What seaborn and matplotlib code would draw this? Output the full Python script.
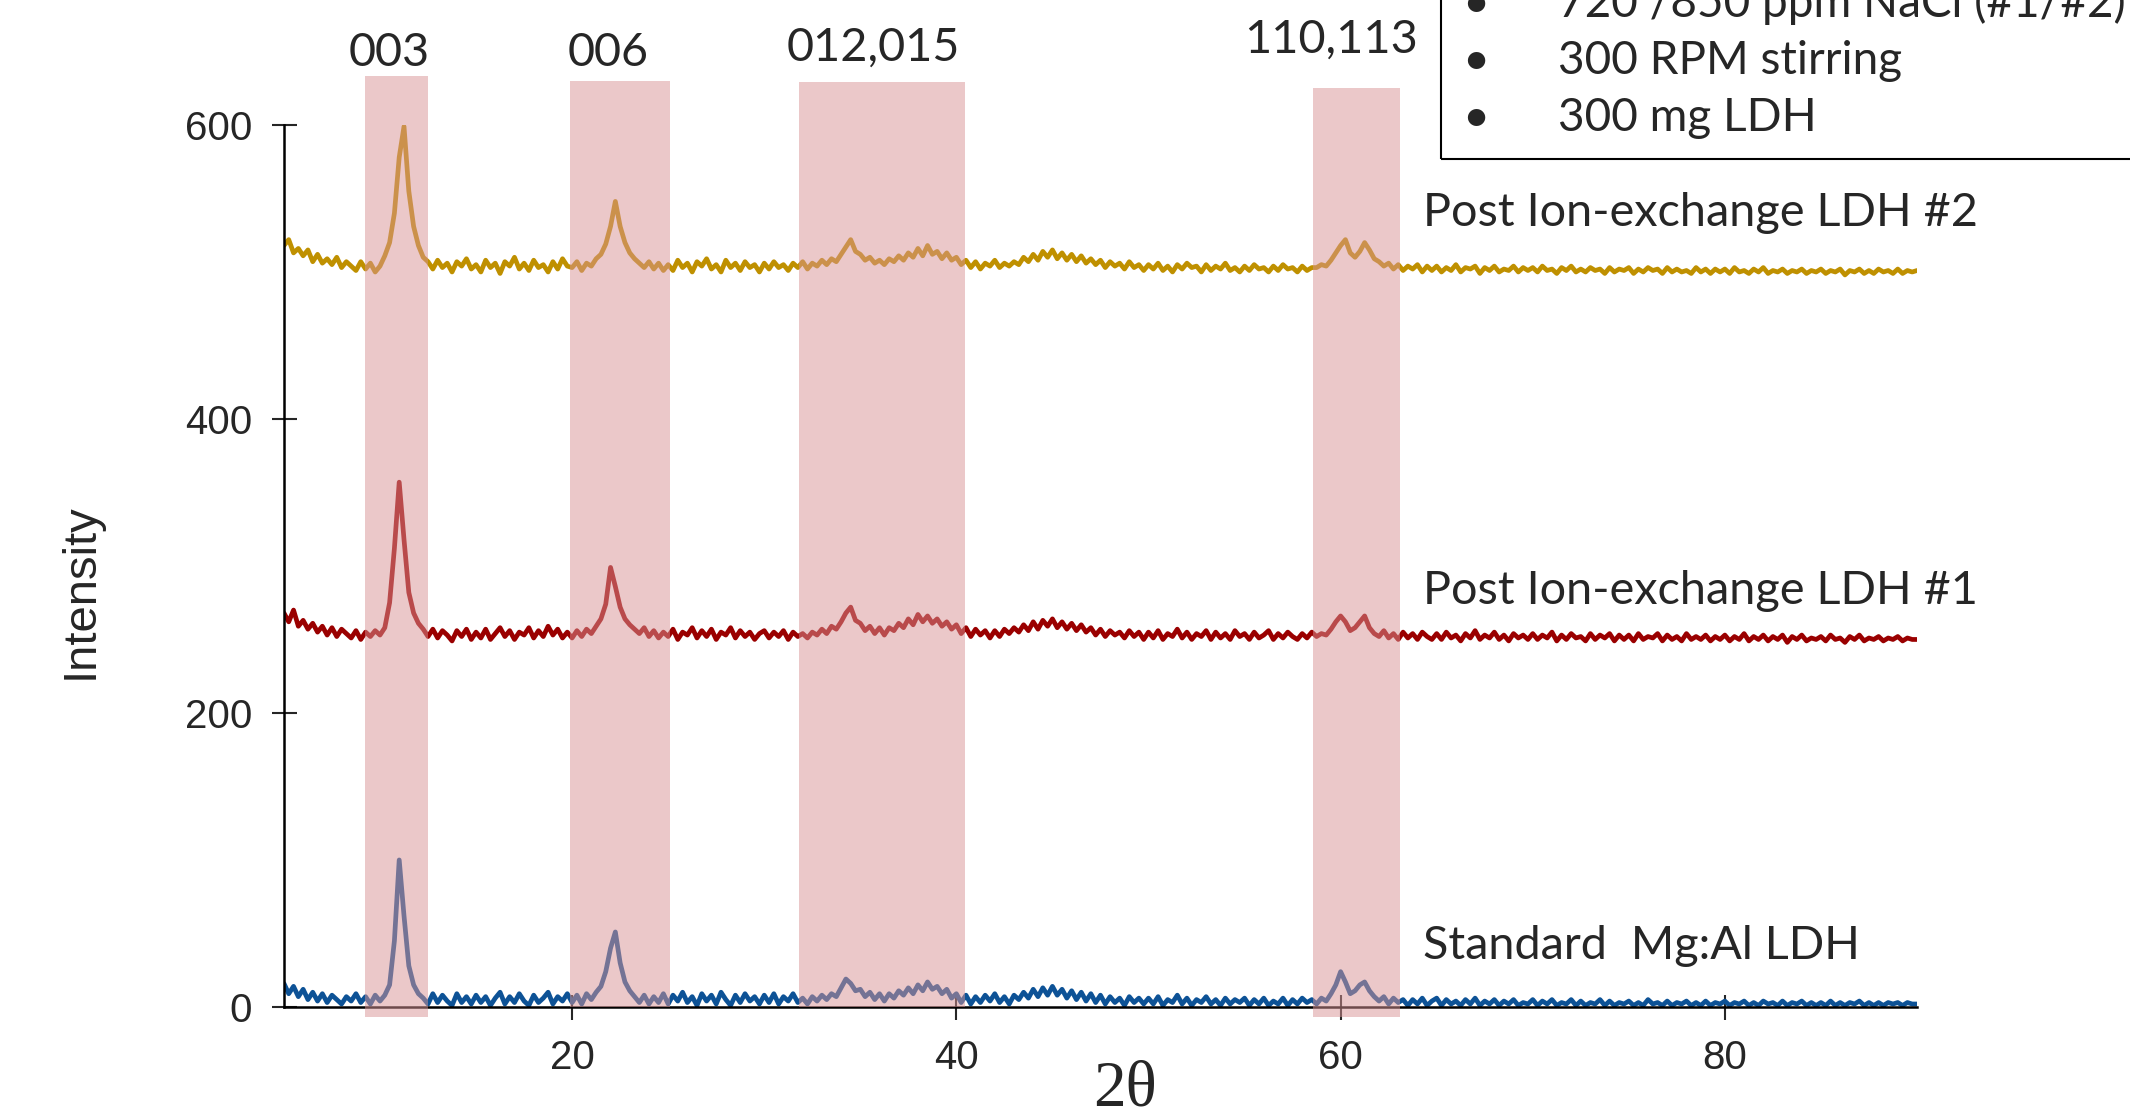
import numpy as np
import pandas as pd
import seaborn as sns
import matplotlib.pyplot as plt
from matplotlib.patches import Rectangle

# 2-theta scan, 0.25 deg step from 5 to 90
two_theta = np.arange(5, 90.001, 0.25)

# Intensities, one row per 5 deg
ldh2_counts = [
    518, 522, 513, 516, 511, 515, 507, 512, 506, 509, 505, 510, 503, 507, 504, 501, 507, 502, 506, 500,  # 5
    504, 511, 520, 540, 578, 599, 555, 531, 518, 510, 507, 502, 508, 503, 506, 500, 507, 504, 509, 502,  # 10
    505, 500, 508, 503, 506, 499, 507, 504, 510, 502, 506, 501, 508, 503, 505, 500, 507, 502, 509, 504,  # 15
    503, 507, 501, 506, 504, 509, 512, 519, 531, 548, 531, 520, 513, 509, 506, 503, 507, 502, 506, 501,  # 20
    505, 501, 508, 503, 506, 500, 507, 504, 509, 502, 505, 500, 508, 503, 506, 501, 507, 503, 505, 500,  # 25
    506, 502, 507, 503, 505, 501, 506, 503, 507, 502, 506, 504, 508, 505, 509, 507, 512, 517, 522, 514,  # 30
    512, 508, 510, 506, 508, 505, 509, 507, 511, 508, 513, 510, 516, 511, 518, 512, 514, 509, 513, 508,  # 35
    510, 505, 508, 503, 507, 502, 506, 504, 508, 503, 506, 504, 507, 505, 510, 507, 512, 508, 514, 510,  # 40
    515, 509, 513, 508, 512, 507, 511, 506, 509, 505, 508, 503, 507, 504, 506, 502, 507, 503, 505, 501,  # 45
    505, 502, 506, 501, 504, 500, 505, 502, 506, 503, 504, 500, 505, 501, 504, 502, 506, 501, 503, 500,  # 50
    504, 501, 505, 502, 503, 500, 504, 501, 505, 502, 503, 500, 504, 501, 503, 503, 505, 504, 508, 513,  # 55
    518, 522, 513, 510, 514, 520, 515, 509, 507, 504, 506, 502, 505, 501, 504, 502, 505, 500, 504, 501,  # 60
    504, 500, 503, 501, 505, 500, 503, 502, 504, 499, 503, 501, 504, 500, 502, 501, 504, 500, 503, 501,  # 65
    503, 500, 504, 501, 502, 499, 503, 501, 504, 500, 502, 500, 503, 501, 502, 499, 503, 500, 502, 501,  # 70
    503, 499, 502, 500, 503, 501, 502, 499, 503, 500, 502, 500, 501, 499, 503, 500, 502, 499, 502, 500,  # 75
    502, 499, 503, 500, 501, 499, 502, 500, 503, 499, 501, 500, 502, 499, 501, 500, 502, 499, 501, 500,  # 80
    502, 499, 501, 500, 502, 498, 501, 500, 502, 499, 501, 499, 502, 500, 501, 499, 502, 499, 501, 500,  # 85
    501,
]

ldh1_counts = [
    268, 262, 270, 259, 263, 257, 261, 255, 259, 253, 258, 252, 257, 254, 251, 256, 250, 255, 252, 256,  # 5
    253, 258, 275, 312, 357, 318, 282, 268, 261, 257, 252, 257, 251, 256, 253, 249, 256, 252, 257, 250,  # 10
    255, 251, 257, 250, 254, 258, 252, 256, 250, 255, 253, 258, 251, 256, 252, 259, 253, 257, 251, 255,  # 15
    251, 256, 252, 257, 254, 259, 264, 274, 299, 286, 272, 264, 260, 257, 254, 258, 252, 256, 251, 255,  # 20
    252, 257, 250, 255, 253, 258, 251, 256, 252, 257, 250, 255, 253, 258, 251, 256, 252, 255, 250, 254,  # 25
    256, 251, 255, 252, 256, 250, 255, 252, 254, 251, 255, 253, 257, 254, 259, 257, 262, 268, 272, 263,  # 30
    261, 256, 259, 254, 258, 253, 258, 256, 261, 258, 264, 260, 267, 262, 266, 261, 264, 259, 262, 257,  # 35
    260, 254, 258, 252, 257, 253, 256, 251, 256, 252, 257, 254, 258, 255, 260, 256, 262, 257, 263, 259,  # 40
    264, 258, 262, 257, 261, 256, 260, 255, 258, 253, 257, 252, 256, 253, 255, 251, 256, 252, 255, 250,  # 45
    255, 251, 256, 250, 254, 252, 257, 251, 255, 250, 254, 252, 256, 250, 255, 251, 254, 250, 256, 252,  # 50
    254, 250, 255, 251, 253, 256, 250, 254, 251, 255, 252, 250, 254, 251, 255, 252, 254, 253, 257, 262,  # 55
    266, 262, 256, 258, 262, 266, 258, 254, 252, 256, 251, 254, 250, 255, 251, 254, 250, 255, 252, 250,  # 60
    254, 250, 255, 251, 253, 249, 254, 251, 256, 250, 253, 251, 255, 250, 253, 249, 254, 251, 253, 250,  # 65
    254, 250, 253, 251, 255, 249, 253, 250, 254, 251, 252, 249, 254, 250, 253, 251, 254, 249, 253, 250,  # 70
    253, 249, 254, 250, 252, 251, 254, 249, 253, 250, 252, 249, 254, 250, 252, 250, 253, 249, 252, 250,  # 75
    253, 249, 252, 250, 254, 249, 252, 250, 253, 249, 252, 250, 253, 248, 252, 250, 253, 249, 251, 250,  # 80
    252, 249, 253, 250, 251, 248, 252, 250, 253, 249, 251, 250, 252, 249, 251, 250, 252, 249, 251, 250,  # 85
    250,
]

standard_counts = [
    16, 9, 14, 7, 12, 5, 10, 4, 9, 3, 8, 5, 2, 7, 4, 9, 3, 7, 2, 8,  # 5
    4, 8, 15, 45, 100, 62, 28, 15, 9, 6, 2, 9, 3, 8, 4, 1, 9, 3, 7, 2,  # 10
    8, 3, 7, 1, 6, 10, 2, 7, 3, 9, 4, 1, 8, 3, 6, 10, 2, 7, 4, 9,  # 15
    3, 8, 2, 9, 5, 10, 14, 24, 40, 51, 30, 17, 11, 7, 3, 8, 2, 7, 3, 9,  # 20
    2, 8, 4, 10, 3, 7, 1, 9, 4, 8, 2, 10, 5, 1, 8, 3, 9, 4, 7, 2,  # 25
    8, 3, 9, 2, 7, 4, 9, 3, 6, 2, 7, 4, 8, 5, 9, 7, 13, 19, 16, 11,  # 30
    12, 7, 10, 5, 9, 4, 9, 6, 11, 8, 13, 9, 15, 11, 17, 12, 14, 9, 12, 6,  # 35
    9, 3, 8, 2, 7, 3, 8, 4, 9, 3, 7, 2, 8, 5, 10, 6, 12, 7, 13, 8,  # 40
    14, 8, 12, 6, 11, 5, 10, 4, 9, 3, 8, 2, 7, 3, 6, 1, 7, 3, 6, 2,  # 45
    6, 2, 7, 1, 5, 3, 8, 2, 6, 1, 5, 3, 7, 2, 5, 1, 6, 2, 5, 3,  # 50
    6, 1, 5, 2, 6, 1, 4, 2, 6, 1, 5, 2, 6, 3, 5, 2, 6, 4, 9, 15,  # 55
    24, 17, 9, 11, 15, 17, 11, 7, 4, 7, 2, 6, 3, 5, 1, 5, 2, 6, 1, 4,  # 60
    6, 1, 5, 2, 4, 1, 5, 2, 6, 1, 4, 2, 5, 1, 4, 2, 5, 1, 3, 2,  # 65
    5, 1, 4, 2, 5, 1, 3, 2, 5, 1, 4, 1, 3, 2, 5, 1, 4, 1, 3, 2,  # 70
    4, 1, 3, 1, 5, 2, 3, 1, 4, 1, 3, 2, 4, 1, 3, 1, 4, 1, 3, 2,  # 75
    4, 1, 3, 2, 4, 1, 3, 1, 4, 2, 3, 1, 4, 1, 3, 2, 4, 1, 3, 1,  # 80
    3, 1, 4, 1, 3, 1, 3, 2, 4, 1, 3, 1, 3, 1, 3, 2, 3, 1, 3, 2,  # 85
    2,
]

sample_names = ["Post Ion-exchange LDH #2", "Post Ion-exchange LDH #1", "Standard  Mg:Al LDH"]
sample_colors = ["#BF9000", "#9A0000", "#0D5296"]

# reflection bands (2-theta ranges) and their hkl labels
band_labels = ["003", "006", "012,015", "110,113"]
band_start = [9.2, 19.87, 31.8, 58.55]
band_end = [12.5, 25.12, 40.45, 63.1]
band_top = [633, 630, 629, 625]
band_bottom = [-7, 0, 0, -7]
band_label_x = [10.5, 21.9, 35.7, 59.5]
band_label_y = [640, 640, 644, 649]

conditions = ["720 /850 ppm NaCl (#1/#2)", "300 RPM stirring", "300 mg LDH"]

sns.set_style("ticks")
plt.rcParams["font.family"] = ["Liberation Sans", "DejaVu Sans"]
note_font = ["Lato", "DejaVu Sans"]

df = pd.concat([
    pd.DataFrame({"two_theta": two_theta, "intensity": vals, "sample": name})
    for name, vals in zip(sample_names, [ldh2_counts, ldh1_counts, standard_counts])
])

fig = plt.figure(figsize=(21.3, 11.14), dpi=100)
ax = fig.add_axes([0.1333, 0.0961, 0.7667, 0.7917])

sns.lineplot(data=df, x="two_theta", y="intensity", hue="sample",
             palette=dict(zip(sample_names, sample_colors)), linewidth=3.4,
             legend=False, sort=False, errorbar=None, ax=ax, zorder=2)

# shaded reflection bands on top of the traces
for x0, x1, lo, hi in zip(band_start, band_end, band_bottom, band_top):
    ax.fill_between([x0, x1], lo, hi, color="#D89395", alpha=0.51,
                    linewidth=0, zorder=3, clip_on=False)
for lbl, lx, ly in zip(band_labels, band_label_x, band_label_y):
    ax.text(lx, ly, lbl, ha="center", va="baseline", fontsize=33.7,
            family=note_font, clip_on=False)

# sample names next to the traces
for name, ly in zip(sample_names, [531.5, 273.8, 32.5]):
    ax.text(64.3, ly, name, ha="left", va="baseline", fontsize=33.7, family=note_font)

ax.set_xlim(5, 90)
ax.set_ylim(0, 600)
ax.set_xticks([20, 40, 60, 80])
ax.set_yticks([0, 200, 400, 600])
ax.tick_params(direction="inout", length=18, width=1.5, pad=14, labelsize=29)
sns.despine(ax=ax)
for s in ["left", "bottom"]:
    ax.spines[s].set_linewidth(1.8)
    ax.spines[s].set_color("black")

ax.set_ylabel("Intensity", fontsize=34, va="center")
ax.yaxis.set_label_coords(-0.1243, 0.4717)
ax.set_xlabel("2θ", fontsize=47, family=["Liberation Serif", "DejaVu Serif"], va="top")
ax.xaxis.set_label_coords(0.515, -0.060)

# conditions box in the top right corner
W, H = 2130, 1114
fig.patches.append(Rectangle((1441 / W, 1 - 159 / H), 0.4, 0.3, transform=fig.transFigure,
                             fill=False, edgecolor="black", linewidth=1.5))
for i, line in enumerate(conditions):
    yb = 1 - (17 + 57 * i) / H
    fig.text(1462 / W, yb, "\u2022", fontsize=33.7, family=note_font, va="baseline")
    fig.text(1558 / W, yb, line, fontsize=33, family=note_font, va="baseline")

fig.savefig("out.png", dpi=100)
